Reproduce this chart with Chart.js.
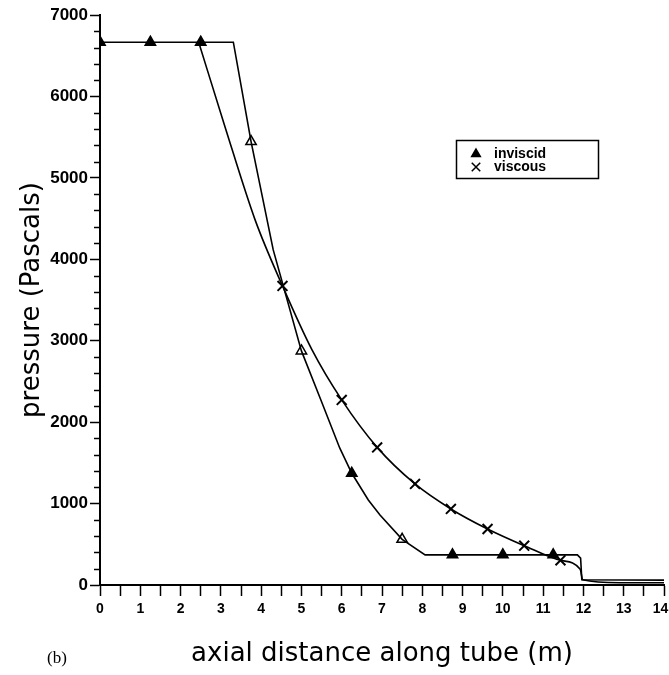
<!DOCTYPE html>
<html>
<head>
<meta charset="utf-8">
<script src="https://cdn.jsdelivr.net/npm/chart.js@4.4.0/dist/chart.umd.min.js"></script>
<style>
  html, body { margin: 0; padding: 0; background: #fff; }
  #wrap { width: 669px; height: 675px; }
</style>
</head>
<body>
<div id="wrap"><canvas id="pressureChart" width="669" height="675"></canvas></div>
<script>
// inviscid solution, pressure (Pa) vs axial distance (m)
const inviscidX = [0, 3.31, 3.75, 4.30, 5.0, 5.5, 5.95, 6.25, 6.66, 6.95, 7.5, 8.07, 11.85, 11.93, 11.96, 14];
const inviscidP = [6666, 6666, 5446, 4115, 2875, 2250, 1683, 1372, 1044, 860, 561, 370, 370, 330, 65, 60];
// triangle markers on the inviscid curve
const inviscidMarkX = [0, 1.25, 2.5, 3.75, 5.0, 6.25, 7.5, 8.75, 10.0, 11.25];
const inviscidMarkP = [6666, 6666, 6666, 5446, 2875, 1372, 561, 370, 370, 370];

// viscous solution (upstream of 2.45 m it lies on the inviscid plateau)
const viscousX = [2.45, 3.10, 3.85, 4.53, 5.26, 6.0, 6.88, 7.82, 8.71, 9.62, 10.53, 11.43, 11.92, 11.98, 12.9, 14];
const viscousP = [6666, 5632, 4484, 3673, 2890, 2273, 1690, 1241, 934, 688, 483, 303, 193, 65, 28, 28];
// cross markers on the viscous curve
const viscousMarkX = [4.53, 6.0, 6.88, 7.82, 8.71, 9.62, 10.53, 11.43];
const viscousMarkP = [3673, 2273, 1690, 1241, 934, 688, 483, 303];

const xLimits = [0, 14];
const yLimits = [0, 7000];
const yMajorStep = 1000;
const yMinorStep = 200;
const xStep = 0.5;

const pts = (xs, ys) => xs.map((x, i) => ({ x: x, y: ys[i] }));

const titleFont = { family: 'DejaVu Sans', size: 26 };

// minor ticks, legend box and panel tag
const decorations = {
  id: 'decorations',
  afterDraw(chart) {
    const ctx = chart.ctx;
    const y = chart.scales.y;
    ctx.save();
    ctx.strokeStyle = '#000';
    ctx.fillStyle = '#000';
    ctx.lineWidth = 1.5;
    for (let v = yLimits[0]; v <= yLimits[1]; v += yMinorStep) {
      if (v % yMajorStep === 0) continue;
      const py = Math.round(y.getPixelForValue(v)) + 0.5;
      ctx.beginPath();
      ctx.moveTo(y.right - 6, py);
      ctx.lineTo(y.right, py);
      ctx.stroke();
    }

    // legend
    ctx.lineWidth = 1.5;
    ctx.strokeRect(456.5, 140.5, 142, 38);
    const rows = [
      { ds: chart.data.datasets[2], y: 154, radius: 5 },
      { ds: chart.data.datasets[3], y: 167, radius: 6 }
    ];
    ctx.font = 'bold 14px "Liberation Sans"';
    ctx.textBaseline = 'middle';
    ctx.textAlign = 'left';
    rows.forEach(r => {
      ctx.fillStyle = '#000';
      ctx.strokeStyle = '#000';
      Chart.helpers.drawPoint(ctx, {
        pointStyle: r.ds.pointStyle,
        radius: r.radius,
        borderWidth: r.ds.pointBorderWidth,
        rotation: 0
      }, 476, r.y);
      ctx.fillStyle = '#000';
      ctx.fillText(r.ds.label, 494, r.y);
    });

    ctx.font = '17px "Liberation Serif"';
    ctx.fillText('(b)', 47, 659);
    ctx.restore();
  }
};

new Chart(document.getElementById('pressureChart'), {
  type: 'scatter',
  data: {
    datasets: [
      {
        label: 'inviscid curve',
        data: pts(inviscidX, inviscidP),
        showLine: true,
        borderColor: '#000',
        borderWidth: 1.6,
        pointRadius: 0,
        tension: 0
      },
      {
        label: 'viscous curve',
        data: pts(viscousX, viscousP),
        showLine: true,
        borderColor: '#000',
        borderWidth: 1.6,
        pointRadius: 0,
        cubicInterpolationMode: 'monotone'
      },
      {
        label: 'inviscid',
        data: pts(inviscidMarkX, inviscidMarkP),
        showLine: false,
        pointStyle: 'triangle',
        pointRadius: 6,
        pointBorderWidth: 1.5,
        pointBorderColor: '#000',
        pointBackgroundColor: ['#000', '#000', '#000', '#fff', '#fff', '#000', '#fff', '#000', '#000', '#000']
      },
      {
        label: 'viscous',
        data: pts(viscousMarkX, viscousMarkP),
        showLine: false,
        pointStyle: 'crossRot',
        pointRadius: 7,
        pointBorderWidth: 2,
        pointBorderColor: '#000',
        pointBackgroundColor: '#000'
      }
    ]
  },
  options: {
    responsive: false,
    animation: false,
    layout: { autoPadding: false, padding: { left: 0, right: 5, top: 15, bottom: 0 } },
    plugins: { legend: { display: false }, tooltip: { enabled: false } },
    scales: {
      x: {
        type: 'linear',
        min: xLimits[0],
        max: xLimits[1],
        afterFit: s => { s.height = 90; s.paddingLeft = 0; s.paddingRight = 0; },
        border: { display: true, color: '#000', width: 2 },
        grid: { drawOnChartArea: false, drawTicks: true, tickLength: 11, tickColor: '#000', tickWidth: 1.5 },
        ticks: {
          stepSize: xStep,
          autoSkip: false,
          maxRotation: 0,
          padding: 5,
          color: '#000',
          font: { family: 'Liberation Sans', weight: 'bold', size: 14 },
          // last label padded so it stays inside the canvas edge
          callback: v => (!Number.isInteger(v) ? '' : v === xLimits[1] ? v + '\u2002' : String(v))
        },
        title: {
          display: true,
          text: 'axial distance along tube (m)',
          color: '#000',
          font: titleFont,
          padding: { top: 0, bottom: 5 }
        }
      },
      y: {
        type: 'linear',
        min: yLimits[0],
        max: yLimits[1],
        afterFit: s => { s.width = 100; s.paddingTop = 0; s.paddingBottom = 0; },
        border: { display: true, color: '#000', width: 2 },
        grid: { drawOnChartArea: false, drawTicks: true, tickLength: 10, tickColor: '#000', tickWidth: 1.5 },
        ticks: {
          stepSize: yMajorStep,
          padding: 2,
          color: '#000',
          font: { family: 'Liberation Sans', weight: 'bold', size: 17 },
          callback: v => String(v)
        },
        title: {
          display: true,
          text: 'pressure (Pascals)',
          color: '#000',
          font: titleFont,
          padding: { top: 17, bottom: 0 }
        }
      }
    }
  },
  plugins: [decorations]
});
</script>
</body>
</html>
